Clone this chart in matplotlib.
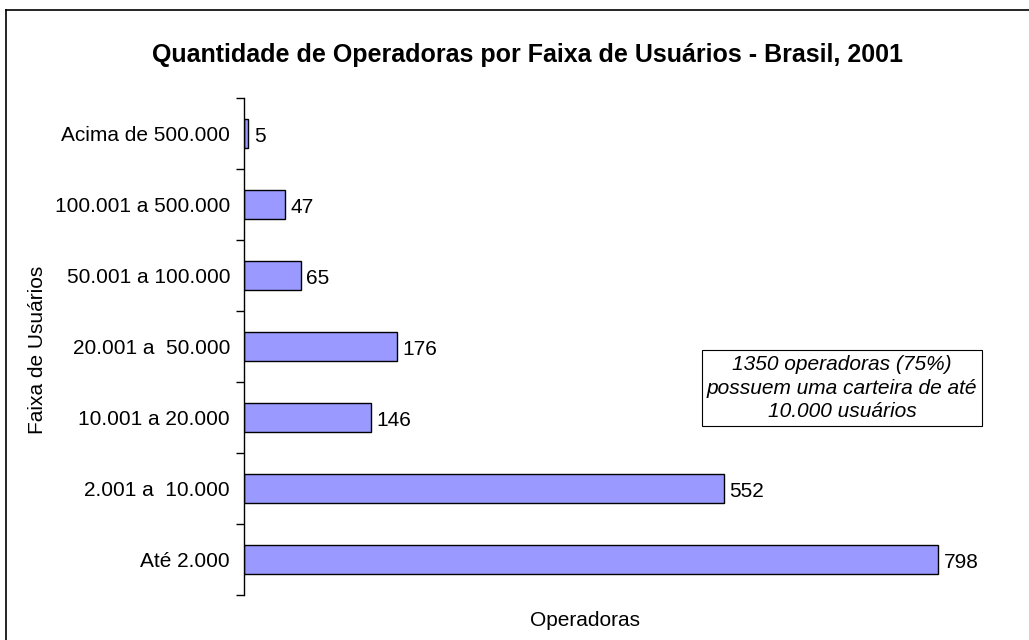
import matplotlib.pyplot as plt
from matplotlib.lines import Line2D

plt.rcParams["font.family"] = ["Liberation Sans", "DejaVu Sans"]

# Faixas de usuários (de baixo para cima) e número de operadoras
faixas = [
    "Até 2.000",
    "2.001 a  10.000",
    "10.001 a 20.000",
    "20.001 a  50.000",
    "50.001 a 100.000",
    "100.001 a 500.000",
    "Acima de 500.000",
]
operadoras = [798, 552, 146, 176, 65, 47, 5]

W, H = 1029, 640
fig = plt.figure(figsize=(W / 100, H / 100), dpi=100)
ax = fig.add_axes([244 / W, 1 - 595 / H, (1010 - 244) / W, (595 - 98) / H])

pos = list(range(len(faixas)))
bars = ax.barh(pos, operadoras, height=0.42, color="#9999FF",
               edgecolor="black", linewidth=1.0)
for b, v in zip(bars, operadoras):
    ax.annotate(str(v), (b.get_width(), b.get_y() + b.get_height() / 2),
                xytext=(4, -2), textcoords="offset points",
                va="center", ha="left", fontsize=15)

ax.set_xlim(0, 881)
ax.set_ylim(-0.5, len(faixas) - 0.5)

# ticks nas divisões das categorias, rótulos no centro
ax.set_yticks([p - 0.5 for p in range(len(faixas) + 1)])
ax.set_yticklabels([])
ax.tick_params(axis="y", which="major", length=6, width=1, direction="out")
ax.set_yticks(pos, minor=True)
ax.set_yticklabels(faixas, minor=True, fontsize=15)
ax.tick_params(axis="y", which="minor", length=0, pad=10)

ax.set_xticks([])
for s in ("top", "right", "bottom"):
    ax.spines[s].set_visible(False)
ax.spines["left"].set_linewidth(1)

fig.text(585 / W, 1 - 620 / H, "Operadoras", ha="center", va="center", fontsize=15)
fig.text(38 / W, 1 - 350 / H, "Faixa de Usuários", rotation=90,
         ha="center", va="center", fontsize=15)
fig.text(527 / W, 1 - 55 / H,
         "Quantidade de Operadoras por Faixa de Usuários - Brasil, 2001",
         ha="center", va="center", fontsize=18, fontweight="bold")

fig.text(842 / W, 1 - 388 / H,
         "1350 operadoras (75%)\npossuem uma carteira de até\n10.000 usuários",
         ha="center", va="center", fontsize=15, style="italic", linespacing=1.3,
         bbox=dict(boxstyle="square,pad=0.25", facecolor="white",
                   edgecolor="black", linewidth=0.8))

# moldura do gráfico (apenas topo e lado esquerdo visíveis)
fig.add_artist(Line2D([6 / W, 1], [1 - 10 / H, 1 - 10 / H], color="black", linewidth=1.2))
fig.add_artist(Line2D([6 / W, 6 / W], [0, 1 - 10 / H], color="black", linewidth=1.2))

fig.savefig("out.png", dpi=100)
